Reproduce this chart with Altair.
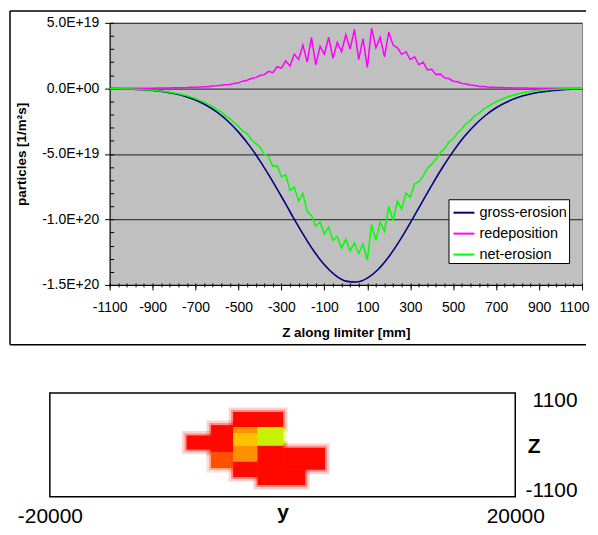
import altair as alt
import pandas as pd

FONT = "Liberation Sans"

# ---------------- top chart data (values in units of 1E19 particles/m^2 s) ----------------
z_gross = list(range(-1100, 1101, 50))
gross = [-0.02, -0.03, -0.06, -0.10, -0.16, -0.25, -0.39, -0.60, -0.89, -1.29,
         -1.82, -2.49, -3.34, -4.35, -5.53, -6.85, -8.25, -9.70, -11.10, -12.39,
         -13.46, -14.25, -14.71, -14.78, -14.48, -13.82, -12.85, -11.64, -10.27, -8.83,
         -7.40, -6.04, -4.81, -3.72, -2.81, -2.07, -1.48, -1.04, -0.70, -0.47,
         -0.30, -0.19, -0.12, -0.07, -0.04]

z_fine = list(range(-1100, 1101, 20))
redep = [0, 0, 0, 0, 0, 0, 0,
         0.01, 0.01, 0.01, 0.01,
         0.02, 0.02, 0.02,
         0.03, 0.04, 0.04, 0.05, 0.06, 0.08, 0.09, 0.11, 0.13, 0.15,
         0.18, 0.20, 0.24, 0.28, 0.30, 0.38, 0.42, 0.55, 0.62, 0.75,
         0.82, 0.98, 1.05, 1.30, 1.20, 1.65, 1.55, 2.10, 1.70, 2.60,
         2.20, 3.30, 2.00, 3.90, 1.80, 3.20, 2.60, 3.90, 2.30, 3.50,
         2.80, 4.10, 3.00, 4.50, 2.20, 3.80, 1.60, 4.60, 3.10, 3.90,
         2.40, 4.30, 3.30, 3.10, 2.60, 2.80, 2.20, 2.40, 1.80, 2.00,
         1.40, 1.45, 1.05, 1.10, 0.80, 0.75, 0.55, 0.50, 0.38, 0.34,
         0.26, 0.22, 0.17, 0.14, 0.11, 0.09, 0.07, 0.06, 0.05, 0.04,
         0.03, 0.03, 0.02, 0.02, 0.01, 0.01, 0.01, 0.01,
         0, 0, 0, 0, 0, 0, 0, 0, 0]
net = [-0.02, -0.02, -0.03, -0.04, -0.05, -0.05, -0.07, -0.08, -0.10, -0.12,
       -0.15, -0.17, -0.21, -0.25,
       -0.29, -0.35, -0.41, -0.49, -0.57, -0.67, -0.78, -0.92, -1.05, -1.22,
       -1.40, -1.62, -1.80, -2.10, -2.30, -2.62, -2.90, -3.25, -3.45, -3.90,
       -4.20, -4.45, -5.05, -5.20, -5.95, -5.90, -6.75, -6.60, -7.80, -7.55,
       -8.60, -8.00, -9.40, -9.70, -10.50, -10.20, -11.10, -10.60, -11.60, -11.30,
       -12.20, -11.50, -12.40, -11.80, -12.60, -11.90, -13.10, -10.40, -11.60, -10.20,
       -10.90, -9.00, -10.10, -8.60, -9.20, -8.00, -8.30, -7.30, -7.10, -6.70,
       -6.10, -5.80, -5.40, -4.90, -4.60, -4.10, -3.85, -3.40, -3.10, -2.70,
       -2.45, -2.10, -1.90, -1.60, -1.40, -1.20, -1.02, -0.88, -0.74, -0.62,
       -0.52, -0.43, -0.36, -0.29, -0.24, -0.19, -0.15, -0.12,
       -0.10, -0.08, -0.06, -0.05, -0.04, -0.03, -0.03, -0.02, -0.02]

SERIES = ["gross-erosion", "redeposition", "net-erosion"]
COLORS = ["#000080", "#ff00ff", "#00ff00"]

y_major = [-1.5e20, -1e20, -5e19, 0, 5e19]
y_minor = [i * 1e19 for i in range(-15, 6)]
x_major = list(range(-1100, 1101, 200))
x_minor = list(range(-1100, 1101, 40))

# ---------------- bottom map data ----------------
map_y_range = [-20000, 20000]
map_z_range = [-1100, 1100]
cell_y0 = [-8250, -6150, -6150, -4250, -4250, -4250, -4250, -4250, -2150, -2150, 50, -2150]
cell_y1 = [-6150, -4250, -4250, 50, -2150, -2150, -2150, -2150, 50, 50, 3650, 1950]
cell_z0 = [-100, -150, -490, 380, 250, -20, -360, -680, -20, -530, -530, -850]
cell_z1 = [200, 420, -150, 700, 380, 250, -20, -360, 380, -20, -60, -530]
cell_level = [1, 1, 2, 1, 3, 4, 3, 1, 5, 1, 1, 1]
LEVEL_COLORS = ["#ff0800", "#ff5000", "#ff9000", "#ffc000", "#c8f000"]

# ---------------- frames ----------------
df_g = pd.DataFrame({"z": z_gross, "v": [g * 1e19 for g in gross], "series": SERIES[0]})
df_r = pd.DataFrame({"z": z_fine, "v": [r * 1e19 for r in redep], "series": SERIES[1]})
df_n = pd.DataFrame({"z": z_fine, "v": [n * 1e19 for n in net], "series": SERIES[2]})

xs = alt.Scale(domain=[-1100, 1100], nice=False, zero=False)
ys = alt.Scale(domain=[-1.5e20, 5e19], nice=False, zero=False)
cscale = alt.Scale(domain=SERIES, range=COLORS)

legend = alt.Legend(orient="none", legendX=340, legendY=177, title=None,
                    fillColor="white", strokeColor="black", padding=2,
                    symbolType="stroke", symbolSize=441, symbolStrokeWidth=2,
                    symbolOffset=2, labelFont=FONT, labelFontSize=14.5,
                    labelColor="black", labelOffset=4, rowPadding=3)

label_expr = ("datum.value == 5e19 ? '5.0E+19' : datum.value == 0 ? '0.0E+00' : "
              "datum.value == -5e19 ? '-5.0E+19' : datum.value == -1e20 ? '-1.0E+20' : '-1.5E+20'")

x_main = alt.Axis(values=x_major, orient="bottom", title="Z along limiter [mm]", grid=False,
                  domainColor="black", domainWidth=1, tickColor="black", tickSize=5,
                  labelFont=FONT, labelFontSize=14, labelColor="black",
                  labelBaseline="alphabetic", labelPadding=22, labelFlush=False,
                  labelExpr="'' + datum.value",
                  labelOffset={"condition": {"test": "datum.value == 1100", "value": -8},
                               "value": 0},
                  titleFont=FONT, titleFontSize=13.5, titleFontWeight="bold",
                  titleColor="black", titleY=52, titleBaseline="alphabetic")
y_main = alt.Axis(values=y_major, orient="left", title="particles [1/m\u00b2s]", grid=True,
                  gridColor="#404040", gridWidth=1.3, domainColor="black", domainWidth=1,
                  tickColor="black", tickSize=5, labelExpr=label_expr,
                  labelFont=FONT, labelFontSize=14, labelColor="black", labelPadding=6,
                  titleFont=FONT, titleFontSize=13.5, titleFontWeight="bold",
                  titleColor="black", titleX=-88, titleY=131.5, titleAlign="center",
                  titleBaseline="middle")
x_min_ax = alt.Axis(values=x_minor, orient="bottom", offset=-2, tickSize=4, domain=False,
                    labels=False, grid=False, title=None, tickColor="black")
y_min_ax = alt.Axis(values=y_minor, orient="left", offset=-4, tickSize=4, domain=False,
                    labels=False, grid=False, title=None, tickColor="black")

def line(df, axes, interp="linear", width=1.5):
    return alt.Chart(df).mark_line(strokeWidth=width, interpolate=interp).encode(
        x=alt.X("z:Q", scale=xs, axis=x_main if axes else None),
        y=alt.Y("v:Q", scale=ys, axis=y_main if axes else None),
        color=alt.Color("series:N", scale=cscale, legend=legend),
    )

l_g = line(df_g, True, "monotone", 1.6)
l_r = line(df_r, False)
l_n = line(df_n, False)
minor = alt.Chart(df_g).mark_line(opacity=0).encode(
    x=alt.X("z:Q", scale=xs, axis=x_min_ax),
    y=alt.Y("v:Q", scale=ys, axis=y_min_ax),
)
one = alt.Data(values=[{}])
f_top = alt.Chart(one).mark_rule(color="black", strokeWidth=1.5).encode(
    x=alt.value(-100), x2=alt.value(478), y=alt.value(-12))
f_left = alt.Chart(one).mark_rule(color="black", strokeWidth=1.5).encode(
    x=alt.value(-100), y=alt.value(-12), y2=alt.value(323))
f_bot = alt.Chart(one).mark_rule(color="black", strokeWidth=1.5).encode(
    x=alt.value(-100), x2=alt.value(478), y=alt.value(323))

top = alt.layer(l_g, l_r, l_n, minor, f_top, f_left, f_bot).resolve_axis(
    x="independent", y="independent").properties(
    width=474, height=263,
    view=alt.ViewBackground(fill="#c0c0c0", stroke="#808080", strokeWidth=1))

# ---------------- bottom ----------------
cells = pd.DataFrame({"y0": cell_y0, "y1": cell_y1, "z0": cell_z0, "z1": cell_z1,
                      "level": cell_level})
ys2 = alt.Scale(domain=map_y_range, range=[-60, 407], nice=False, zero=False)
zs2 = alt.Scale(domain=map_z_range, nice=False, zero=False)
lscale = alt.Scale(domain=[1, 2, 3, 4, 5], range=LEVEL_COLORS)

x_ax2 = alt.Axis(values=map_y_range, orient="bottom", ticks=False, tickSize=0,
                 domain=False, grid=False, labelFlush=False, labelFont=FONT,
                 labelFontSize=21, labelColor="black", labelBaseline="alphabetic",
                 labelPadding=26, labelExpr="'' + datum.value", title="y",
                 titleFont=FONT, titleFontSize=21, titleFontWeight="bold",
                 titleColor="black", titleX=173.5, titleY=22,
                 titleBaseline="alphabetic", titleAlign="center")
z_ax2 = alt.Axis(values=map_z_range, orient="right", ticks=False, tickSize=0,
                 domain=False, grid=False, labelFlush=True, labelFlushOffset=4,
                 labelAlign="right", labelPadding=62, labelFont=FONT, labelFontSize=21,
                 labelColor="black", labelExpr="'' + datum.value", title="Z",
                 titleAngle=0, titleX=18.5, titleY=54, titleAlign="center",
                 titleBaseline="middle", titleFont=FONT, titleFontSize=21,
                 titleFontWeight="bold", titleColor="black")

enc = dict(
    x=alt.X("y0:Q", scale=ys2, axis=x_ax2), x2="y1",
    y=alt.Y("z0:Q", scale=zs2, axis=z_ax2), y2="z1",
)
frame = alt.Chart(alt.Data(values=[{"y0": map_y_range[0], "y1": map_y_range[1],
                                    "z0": map_z_range[0], "z1": map_z_range[1]}])).mark_rect(
    fill="white", stroke="black", strokeWidth=1.5).encode(**enc)
halo_wide = alt.Chart(cells).mark_rect(fillOpacity=0, strokeWidth=9, strokeOpacity=0.18).encode(
    stroke=alt.Color("level:O", scale=lscale, legend=None), **enc)
halo = alt.Chart(cells).mark_rect(fillOpacity=0, strokeWidth=4, strokeOpacity=0.35).encode(
    stroke=alt.Color("level:O", scale=lscale, legend=None), **enc)
fill = alt.Chart(cells).mark_rect(strokeWidth=0).encode(
    fill=alt.Color("level:O", scale=lscale, legend=None), **enc)

bottom = alt.layer(frame, halo_wide, halo, fill).properties(
    width=407, height=104,
    view=alt.ViewBackground(fill="transparent", stroke="transparent", strokeWidth=0))

chart = alt.vconcat(top, bottom, spacing=42.5).properties(
    padding={"left": 0, "top": 0, "right": 0, "bottom": 0}
).configure(font=FONT)

chart.save("out.html", embed_options={"renderer": "svg", "actions": False})
